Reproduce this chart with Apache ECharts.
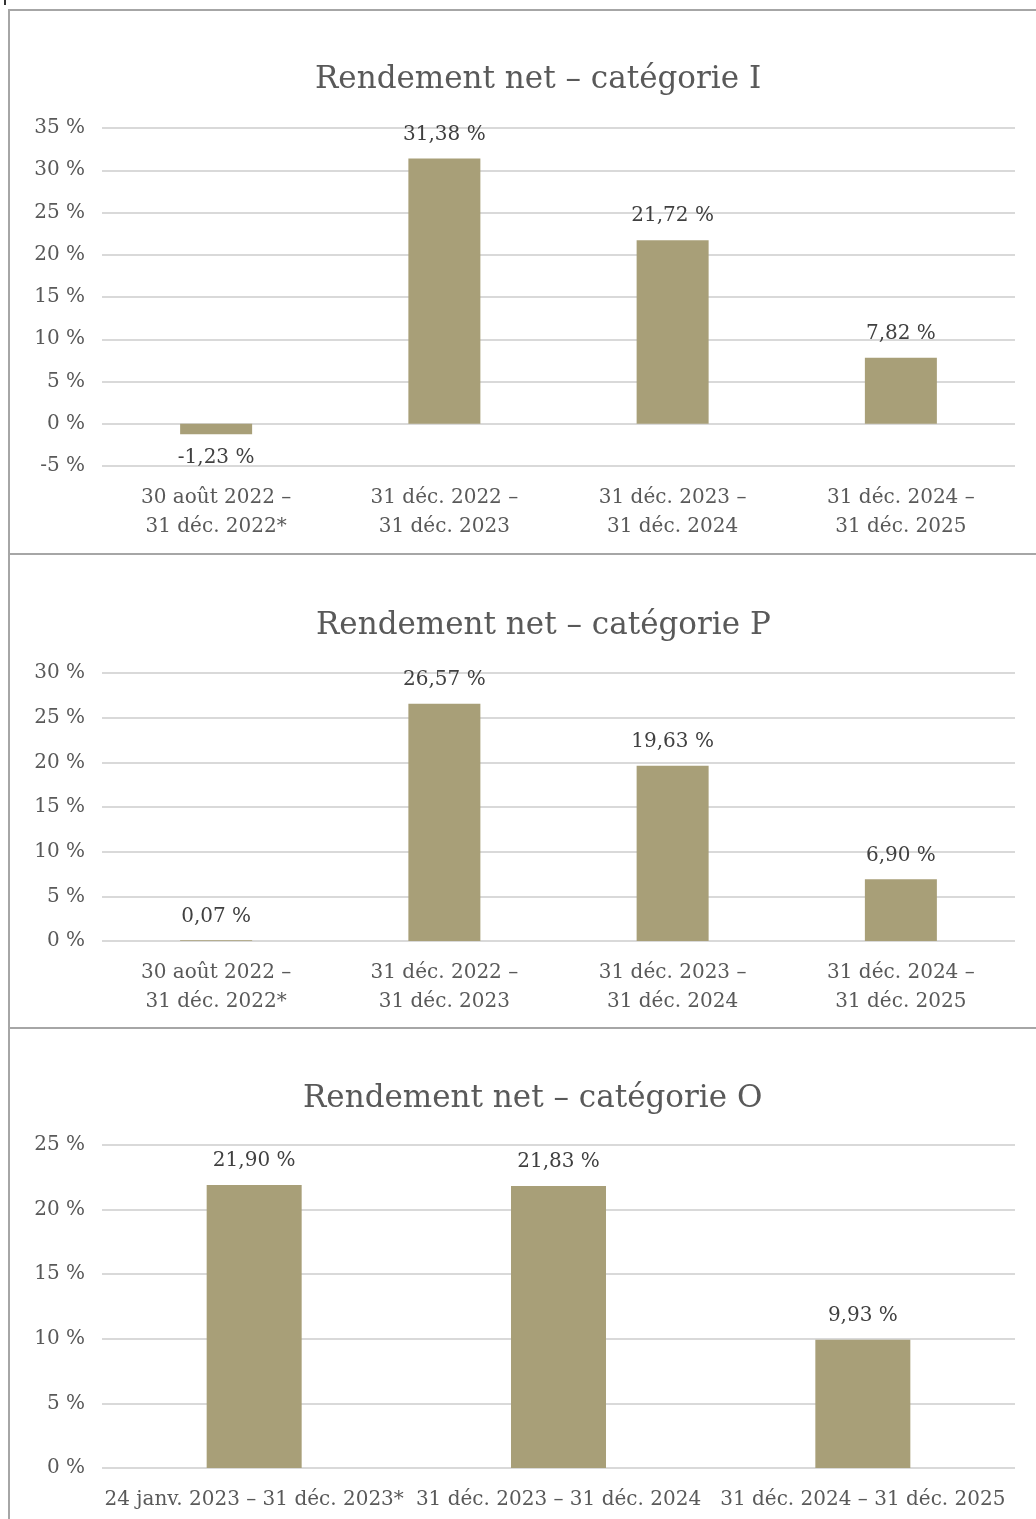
<!DOCTYPE html>
<html><head><meta charset="utf-8">
<script src="https://cdn.jsdelivr.net/npm/echarts@6/dist/echarts.min.js"></script>
<style>html,body{margin:0;padding:0;background:#fff}#c{width:1036px;height:1519px}</style>
</head><body><div id="c"></div>
<script>
const titles = ['Rendement net – catégorie I', 'Rendement net – catégorie P', 'Rendement net – catégorie O'];
const catsI = ['30 août 2022 –\n31 déc. 2022*', '31 déc. 2022 –\n31 déc. 2023', '31 déc. 2023 –\n31 déc. 2024', '31 déc. 2024 –\n31 déc. 2025'];
const valsI = [-1.23, 31.38, 21.72, 7.82];
const catsP = ['30 août 2022 –\n31 déc. 2022*', '31 déc. 2022 –\n31 déc. 2023', '31 déc. 2023 –\n31 déc. 2024', '31 déc. 2024 –\n31 déc. 2025'];
const valsP = [0.07, 26.57, 19.63, 6.90];
const catsO = ['24 janv. 2023 – 31 déc. 2023*', '31 déc. 2023 – 31 déc. 2024', '31 déc. 2024 – 31 déc. 2025'];
const valsO = [21.90, 21.83, 9.93];
const yRangeI = [-5, 35, 5];
const yRangeP = [0, 30, 5];
const yRangeO = [0, 25, 5];

const FONT = '"DejaVu Serif", serif';
const TXT = '#595959';
const BAR = '#A89F78';
const GRIDC = '#D9D9D9';
const BORDER = '#A6A6A6';

const fmt = v => v.toFixed(2).replace('.', ',') + ' %';
const chart = echarts.init(document.getElementById('c'), null, {renderer: 'canvas'});

const grids = [
  {left: 102, right: 21, top: 128, height: 338},
  {left: 102, right: 21, top: 673, height: 268},
  {left: 102, right: 21, top: 1145, height: 323}
];
const titleTops = [59, 605, 1078];
const titleLefts = [310, 311, 298];
const ranges = [yRangeI, yRangeP, yRangeO];
const cats = [catsI, catsP, catsO];
const vals = [valsI, valsP, valsO];
const barW = [72, 72, 95];

const option = {
  animation: false,
  backgroundColor: '#fff',
  title: titles.map((t, i) => ({
    text: t, left: titleLefts[i], top: titleTops[i],
    textStyle: {fontFamily: FONT, fontSize: 31, fontWeight: 'normal', color: TXT}
  })),
  grid: grids,
  xAxis: cats.map((c, i) => ({
    type: 'category', gridIndex: i, data: c,
    axisLine: {show: false, onZero: false}, axisTick: {show: false},
    axisLabel: {fontFamily: FONT, fontSize: 20, color: TXT, margin: 17, lineHeight: 29, interval: 0}
  })),
  yAxis: ranges.map((r, i) => ({
    type: 'value', gridIndex: i, min: r[0], max: r[1], interval: r[2],
    axisLine: {show: false}, axisTick: {show: false},
    splitLine: {lineStyle: {color: GRIDC, width: 2}},
    axisLabel: {fontFamily: FONT, fontSize: 20, color: TXT, margin: 17, formatter: v => v + ' %'}
  })),
  series: vals.map((v, i) => ({
    type: 'bar', xAxisIndex: i, yAxisIndex: i, barWidth: barW[i],
    itemStyle: {color: BAR},
    data: v.map(x => ({
      value: x,
      label: {position: x < 0 ? 'bottom' : 'top'}
    })),
    label: {
      show: true, distance: 14, fontFamily: FONT, fontSize: 20, color: '#404040',
      formatter: p => fmt(p.value)
    }
  })),
  graphic: [
    {type: 'line', shape: {x1: 8, y1: 10, x2: 1036, y2: 10}, style: {stroke: BORDER, lineWidth: 2}},
    {type: 'line', shape: {x1: 9, y1: 10, x2: 9, y2: 1519}, style: {stroke: BORDER, lineWidth: 2}},
    {type: 'line', shape: {x1: 9, y1: 554, x2: 1036, y2: 554}, style: {stroke: BORDER, lineWidth: 2}},
    {type: 'line', shape: {x1: 9, y1: 1028, x2: 1036, y2: 1028}, style: {stroke: BORDER, lineWidth: 2}},
    {type: 'line', shape: {x1: 5, y1: 0, x2: 5, y2: 5}, style: {stroke: '#333', lineWidth: 2}}
  ]
};
chart.setOption(option);
</script></body></html>
